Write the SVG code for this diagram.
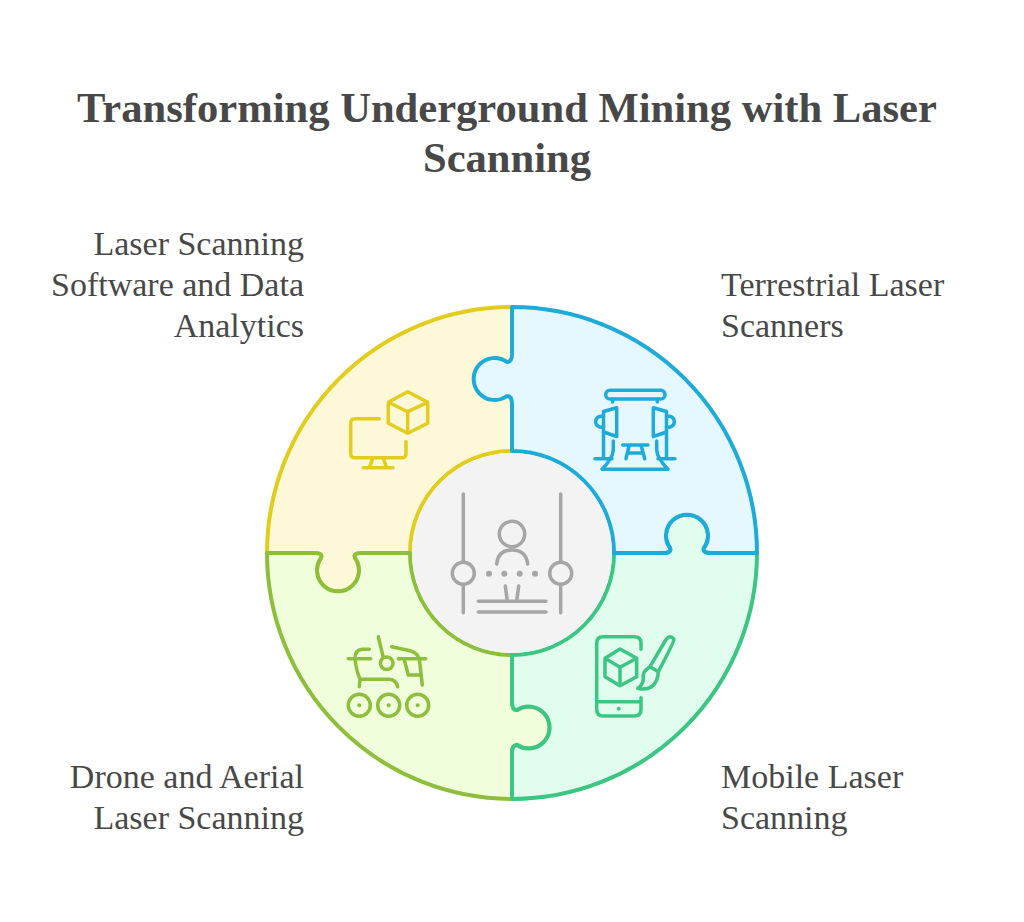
<svg xmlns="http://www.w3.org/2000/svg" width="1024" height="922" viewBox="0 0 1024 922">
<style>
text{font-family:"Liberation Serif","Times New Roman",serif;fill:#484848}
.t{font-size:42.6px;font-weight:bold;text-anchor:middle}
.l{font-size:34px}
.r{text-anchor:end}
.p{stroke-width:4;stroke-linejoin:round}
.i{fill:none;stroke-width:3.5;stroke-linecap:round;stroke-linejoin:round}
</style>
<rect width="1024" height="922" fill="#fff"/>
<g id="title">
<text class="t" x="507" y="122">Transforming Underground Mining with Laser</text>
<text class="t" x="507" y="172">Scanning</text>
</g>
<g id="connectors"></g>
<g id="node-software">
<path class="p" fill="#fdf8d8" stroke="#e2cd1e" d="M267 553A245 246 0 0 1 512 307L512 451A102 102 0 0 0 410 553L361 553Q353 553 355 558A21 21 0 1 1 321 558Q323 553 315 553Z"/>
<g class="i" stroke="#e2cd1e">
<path d="M407.7 391.7L427.7 402.3V423.3L407.7 433.3L388.3 423.3V402.3ZM388.3 402.3L407.7 411.7L427.7 402.3M407.7 411.7V433.3"/>
<path d="M379.3 418.7H355Q350.7 418.7 350.7 423V453.4Q350.7 457.7 355 457.7H401.7Q406 457.7 406 453.4V441.7"/>
<path d="M372.7 458.5L369.3 467.7M383.3 458.5L386.7 467.7M363.3 467.7H393"/>
</g>
</g>
<g id="node-drone">
<path class="p" fill="#f0fedb" stroke="#8dbe3c" d="M512 799A245 246 0 0 1 267 553L315 553Q323 553 321 558A21 21 0 1 0 355 558Q353 553 361 553L410 553A102 102 0 0 0 512 655L512 702Q512 710 517 710A21 21 0 1 1 517 745Q512 745 512 753Z"/>
<g class="i" stroke="#8dbe3c">
<circle cx="359.3" cy="705.3" r="11"/><circle cx="388.7" cy="705.3" r="11"/><circle cx="417.7" cy="705.3" r="11"/>
<circle cx="386.7" cy="663.3" r="6.3"/>
<path d="M378.3 636.7L383.3 657.3M348.3 658.7H370.7M369.3 649.3H362Q355 650 355 658.7Q356 670 360 679.3H389.3Q396 680 397.7 686.7M360 679.3L359.3 686.7"/>
<path d="M391.7 646.7L410 650.7Q417 653 419.3 658.7L422.3 685M398.3 658.7H425.7M404 658.7L408.3 675H420.7"/>
</g>
<g fill="#8dbe3c"><circle cx="359.3" cy="705.3" r="2"/><circle cx="388.7" cy="705.3" r="2"/><circle cx="417.7" cy="705.3" r="2"/></g>
</g>
<g id="node-mobile">
<path class="p" fill="#e0fded" stroke="#3cc583" d="M757 553A245 246 0 0 1 512 799L512 753Q512 745 517 745A21 21 0 1 0 517 710Q512 710 512 702L512 655A102 102 0 0 0 614 553L662 553Q672 553 670 548A21 21 0 1 1 704 548Q702 553 712 553Z"/>
<g class="i" stroke="#3cc583">
<path d="M641 649.3V643.3Q641 636.7 634.3 636.7H603.3Q596.7 636.7 596.7 643.3V709.3Q596.7 716 603.3 716H634.3Q641 716 641 709.3V697.7M596.7 701.7H641"/>
<path d="M620 649L636.7 658.3V676.7L620 685.7L605 676.7V658.3ZM605 658.3L620 667.3L636.7 658.3M620 667.3V685.7"/>
<path d="M650 666.7L665.7 640Q670 634 674 639.3Q674.3 641.7 658.3 671.7M650 666.7Q641.7 671.7 643.3 678.3Q643.3 685 637.7 688.3Q651.7 691.7 656.7 680Q658.3 675 658.3 671.7Z"/>
</g>
<circle cx="618.7" cy="708.7" r="2" fill="#3cc583"/>
</g>
<g id="node-terrestrial">
<path class="p" fill="#e5f7ff" stroke="#1fabd8" d="M512 307A245 246 0 0 1 757 553L712 553Q702 553 704 548A21 21 0 1 0 670 548Q672 553 662 553L614 553A102 102 0 0 0 512 451L512 404Q512 396 507 396A21 21 0 1 1 507 362Q512 362 512 354Z"/>
<g class="i" stroke="#1fabd8">
<rect x="605.7" y="390.3" width="59.3" height="8.7" rx="4.3"/>
<path d="M612.7 399V402M657.3 399V402"/>
<path d="M616.7 407.7L603.5 411.5V432L616.7 436.5ZM653.3 407.7L666.5 411.5V432L653.3 436.5Z"/>
<path d="M603.5 416.7A5.5 5.5 0 1 0 603.5 426.7M666.5 416.7A5.5 5.5 0 1 1 666.5 426.7"/>
<path d="M603.5 432V458.7M666.5 432V458.7M595 458.7H612M658 458.7H675"/>
<path d="M613.3 441V450Q613 458 602 469.3H668Q657 458 656.7 450V441"/>
<path d="M622.7 445H648M629.3 445L626 458.7M641 445L644.7 458.7M627.5 453H643"/>
</g>
</g>
<g id="node-center">
<circle cx="512" cy="553" r="100" fill="#f3f3f3"/>
<g class="i" stroke="#a6a6a6">
<path d="M463.3 494V561.7M463.3 585V612.7M560.7 494V561.7M560.7 585V612.7"/>
<circle cx="463.3" cy="573.3" r="11"/><circle cx="560.7" cy="573.3" r="11"/>
<circle cx="512" cy="534" r="12.7"/>
<path d="M496.7 564Q498 550 512 550Q526 550 527.7 564"/>
<path d="M505.3 586L507.3 601M518.7 586L516.7 601M478.3 601.3H546M478.3 612H546"/>
</g>
<g fill="#a6a6a6"><circle cx="489" cy="573.7" r="3"/><circle cx="504.3" cy="573.7" r="3"/><circle cx="519.7" cy="573.7" r="3"/><circle cx="535" cy="573.7" r="3"/></g>
</g>
<g id="labels">
<text class="l r" x="304" y="255">Laser Scanning</text>
<text class="l r" x="304" y="296">Software and Data</text>
<text class="l r" x="304" y="337">Analytics</text>
<text class="l" x="721" y="296">Terrestrial Laser</text>
<text class="l" x="721" y="337">Scanners</text>
<text class="l r" x="304" y="788">Drone and Aerial</text>
<text class="l r" x="304" y="829">Laser Scanning</text>
<text class="l" x="721" y="788">Mobile Laser</text>
<text class="l" x="721" y="829">Scanning</text>
</g>
</svg>
